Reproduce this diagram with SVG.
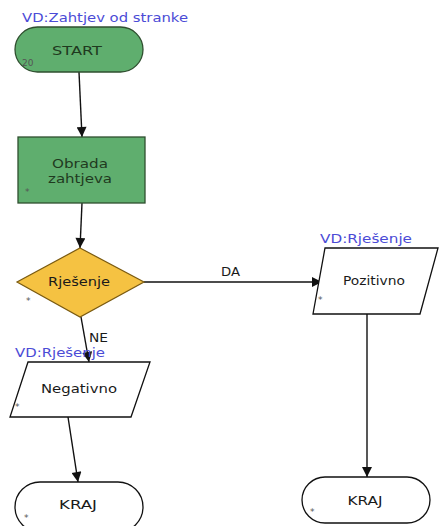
<svg xmlns="http://www.w3.org/2000/svg" width="440" height="526" viewBox="0 0 440 526">
<style>
.t{font-family:"DejaVu Sans","Liberation Sans",sans-serif;fill:#1a1a1a}
.dg{fill:#1f3a1f}
.vd{font-family:"DejaVu Sans","Liberation Sans",sans-serif;fill:#4b4bd6;font-size:12px}
.g{fill:#5fae6e;stroke:#2f4f2f;stroke-width:1.3}
.y{fill:#f5c242;stroke:#7a5a10;stroke-width:1.2}
.w{fill:#fff;stroke:#111;stroke-width:1.3}
.c{stroke:#111;stroke-width:1.4;fill:none;marker-end:url(#ah)}
.m{font-family:"DejaVu Sans",sans-serif;font-size:9px;fill:#555}
</style>
<defs>
<marker id="ah" viewBox="0 0 10 10" refX="10" refY="5" markerWidth="11" markerHeight="10" orient="auto" markerUnits="userSpaceOnUse">
<path d="M0,0 L10,5 L0,10 z" fill="#111"/>
</marker>
</defs>
<rect width="440" height="526" fill="#fff"/>
<g id="connectors">
<line class="c" x1="79" y1="72" x2="82" y2="137"/>
<line class="c" x1="82" y1="203" x2="80" y2="248"/>
<line class="c" x1="144" y1="282" x2="322" y2="282"/>
<line class="c" x1="81" y1="317" x2="89" y2="362"/>
<line class="c" x1="68" y1="417" x2="78" y2="482"/>
<line class="c" x1="367" y1="314" x2="367" y2="477"/>
<text class="t" x="221" y="276" font-size="12" textLength="19" lengthAdjust="spacingAndGlyphs">DA</text>
<text class="t" x="89" y="342" font-size="12" textLength="19" lengthAdjust="spacingAndGlyphs">NE</text>
</g>
<g id="start">
<text class="vd" x="22" y="22" textLength="166" lengthAdjust="spacingAndGlyphs">VD:Zahtjev od stranke</text>
<rect class="g" x="15" y="27" width="128" height="45" rx="22.5"/>
<text class="t dg" x="77" y="55" font-size="13" text-anchor="middle" textLength="50" lengthAdjust="spacingAndGlyphs">START</text>
<text class="m" x="22" y="66" fill="#777">20</text>
</g>
<g id="obrada">
<rect class="g" x="18" y="137" width="127" height="66"/>
<text class="t dg" x="80" y="168" font-size="13" text-anchor="middle" textLength="56" lengthAdjust="spacingAndGlyphs">Obrada</text>
<text class="t dg" x="80" y="183" font-size="13" text-anchor="middle" textLength="64" lengthAdjust="spacingAndGlyphs">zahtjeva</text>
<text class="m" x="25" y="195">*</text>
</g>
<g id="rjesenje">
<polygon class="y" points="80,248 144,282 80,317 17,282"/>
<text class="t" x="79" y="286" font-size="13" text-anchor="middle" textLength="62" lengthAdjust="spacingAndGlyphs" fill="#3a2a05">Rješenje</text>
<text class="m" x="26" y="304" fill="#4b4bd6">*</text>
</g>
<g id="negativno">
<text class="vd" x="15" y="357" textLength="90" lengthAdjust="spacingAndGlyphs">VD:Rješenje</text>
<polygon class="w" points="28,362 150,362 131,417 10,417"/>
<text class="t" x="79" y="393" font-size="12" text-anchor="middle" textLength="76" lengthAdjust="spacingAndGlyphs">Negativno</text>
<text class="m" x="15" y="410">*</text>
</g>
<g id="pozitivno">
<text class="vd" x="320" y="243" textLength="92" lengthAdjust="spacingAndGlyphs">VD:Rješenje</text>
<polygon class="w" points="325,248 438,248 420,314 313,314"/>
<text class="t" x="374" y="285" font-size="12" text-anchor="middle" textLength="62" lengthAdjust="spacingAndGlyphs">Pozitivno</text>
<text class="m" x="318" y="303">*</text>
</g>
<g id="kraj1">
<rect class="w" x="15" y="482" width="128" height="50" rx="25"/>
<text class="t" x="78" y="509" font-size="12" text-anchor="middle" textLength="38" lengthAdjust="spacingAndGlyphs">KRAJ</text>
<text class="m" x="24" y="521">*</text>
</g>
<g id="kraj2">
<rect class="w" x="302" y="477" width="128" height="46" rx="23"/>
<text class="t" x="365" y="505" font-size="12" text-anchor="middle" textLength="35" lengthAdjust="spacingAndGlyphs">KRAJ</text>
<text class="m" x="310" y="515">*</text>
</g>
</svg>
